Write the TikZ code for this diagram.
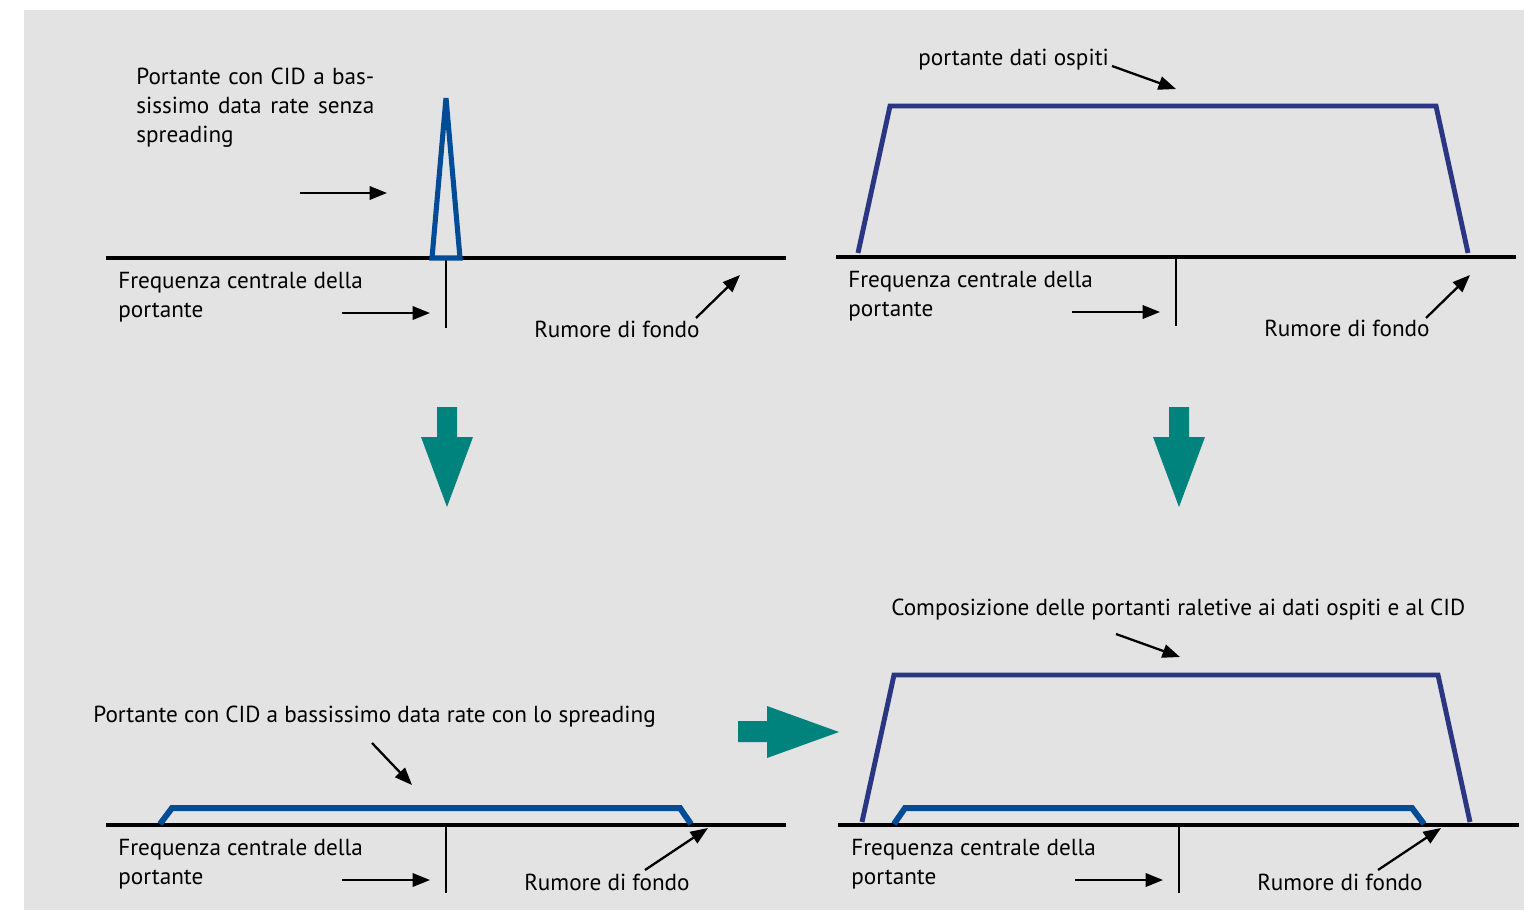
\documentclass[tikz,border=0pt]{standalone}
\usepackage{fontspec}
\setmainfont{PT Sans}
\usetikzlibrary{arrows.meta}
\definecolor{sfondo}{HTML}{E3E3E3}
\definecolor{picco}{HTML}{004C97}
\definecolor{ospiti}{HTML}{2B3682}
\definecolor{verde}{HTML}{00837D}
\begin{document}
\begin{tikzpicture}[x=0.02cm,y=-0.02cm,
  asse/.style={line width=2.8pt},
  tacca/.style={line width=1.3pt},
  freccia/.style={line width=1.3pt,-{Triangle[length=0.35cm,width=0.27cm]}},
  testo/.style={inner sep=0pt,anchor=base west,align=left,font=\fontsize{13.2}{16.5}\selectfont}]
  \useasboundingbox (0,0) rectangle (1524,910);
  \fill[sfondo] (24,10) rectangle (1524,910); %sfondo grigio

  % pannello in alto a sinistra
  \draw[asse] (106,258)--(786,258); %rumore di fondo
  \draw[tacca] (446,258)--(446,328); %frequenza centrale
  \draw[picco,line width=2.9pt,line join=miter] (432,258)--(446,98)--(460,258)--cycle; %portante CID
  \node[testo] (cid) at (136,142) {\makebox[4.76cm][s]{Portante con CID a bas-}\\\makebox[4.76cm][s]{sissimo data rate senza}\\spreading};
  \node[testo] (freq1) at (118,317) {Frequenza centrale della\\portante};
  \node[testo] (rum1) at (534,337) {Rumore di fondo};
  \coordinate (p1a) at (300,193); \coordinate (p1b) at (387,193);
  \coordinate (f1a) at (342,313); \coordinate (f1b) at (430,313);
  \coordinate (r1a) at (696,318); \coordinate (r1b) at (740,275);
  \draw[freccia] (p1a)--(p1b);
  \draw[freccia] (f1a)--(f1b);
  \draw[freccia] (r1a)--(r1b);

  % pannello in alto a destra
  \draw[asse] (836,257)--(1516,257);
  \draw[tacca] (1176,257)--(1176,326);
  \draw[ospiti,line width=2.8pt] (858,253)--(890,106)--(1436,106)--(1468,253); %portante dati ospiti
  \node[testo] (osp2) at (918,65) {portante dati ospiti};
  \node[testo] (freq2) at (848,316) {Frequenza centrale della\\portante};
  \node[testo] (rum2) at (1264,336) {Rumore di fondo};
  \coordinate (o2a) at (1112,66); \coordinate (o2b) at (1176,89);
  \coordinate (f2a) at (1072,312); \coordinate (f2b) at (1160,312);
  \coordinate (r2a) at (1426,318); \coordinate (r2b) at (1470,275);
  \draw[freccia] (o2a)--(o2b);
  \draw[freccia] (f2a)--(f2b);
  \draw[freccia] (r2a)--(r2b);

  % frecce verdi
  \fill[verde] (437,407)--(457,407)--(457,437)--(473,437)--(447,507)--(421,437)--(437,437)--cycle;
  \fill[verde] (1169,407)--(1189,407)--(1189,437)--(1205,437)--(1179,507)--(1153,437)--(1169,437)--cycle;
  \fill[verde] (738,721)--(767,721)--(767,706)--(839,732)--(767,758)--(767,742)--(738,742)--cycle;

  % pannello in basso a sinistra
  \draw[asse] (106,825)--(786,825);
  \draw[tacca] (446,825)--(446,893);
  \draw[picco,line width=3.4pt] (160,824)--(172,808)--(680,808)--(691,824); %CID con spreading
  \node[testo] (spr3) at (93,722) {Portante con CID a bassissimo data rate con lo spreading};
  \node[testo] (freq3) at (118,884) {Frequenza centrale della\\portante};
  \node[testo] (rum3) at (524,890) {Rumore di fondo};
  \coordinate (s3a) at (372,743); \coordinate (s3b) at (412,785);
  \coordinate (f3a) at (342,880); \coordinate (f3b) at (430,880);
  \coordinate (r3a) at (645,870); \coordinate (r3b) at (708,828);
  \draw[freccia] (s3a)--(s3b);
  \draw[freccia] (f3a)--(f3b);
  \draw[freccia] (r3a)--(r3b);

  % pannello in basso a destra
  \draw[asse] (838,825)--(1519,825);
  \draw[tacca] (1179,825)--(1179,893);
  \draw[ospiti,line width=2.8pt] (862,822)--(894,675)--(1438,675)--(1470,822);
  \draw[picco,line width=3.4pt] (894,824)--(905,808)--(1412,808)--(1424,824);
  \node[testo] (comp4) at (891,615) {Composizione delle portanti raletive ai dati ospiti e al CID};
  \node[testo] (freq4) at (851,884) {Frequenza centrale della\\portante};
  \node[testo] (rum4) at (1257,890) {Rumore di fondo};
  \coordinate (c4a) at (1116,634); \coordinate (c4b) at (1180,657);
  \coordinate (f4a) at (1075,880); \coordinate (f4b) at (1163,880);
  \coordinate (r4a) at (1378,870); \coordinate (r4b) at (1441,828);
  \draw[freccia] (c4a)--(c4b);
  \draw[freccia] (f4a)--(f4b);
  \draw[freccia] (r4a)--(r4b);
\end{tikzpicture}
\end{document}
